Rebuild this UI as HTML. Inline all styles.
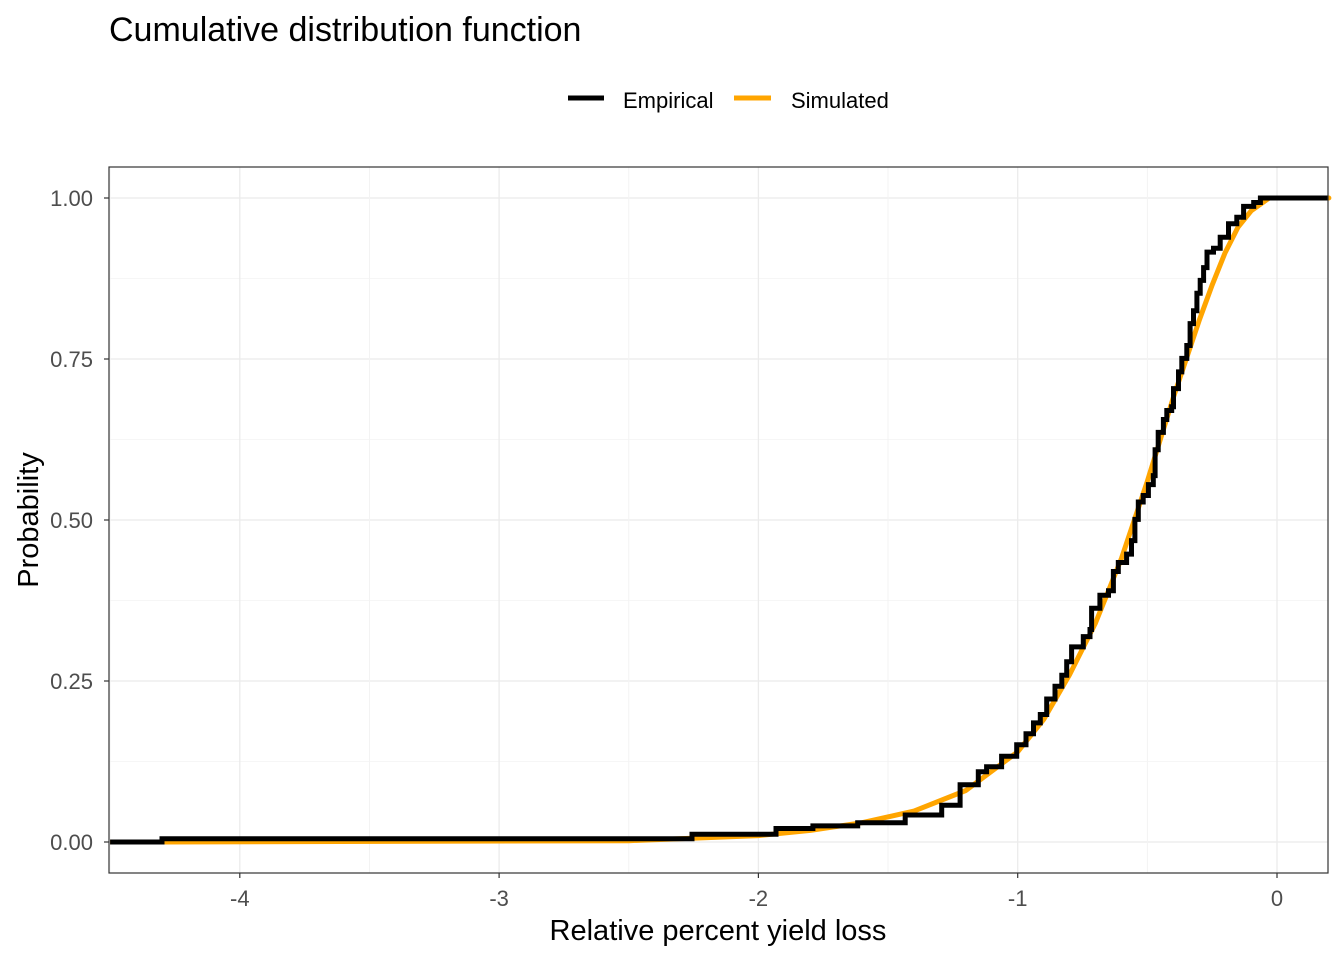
<!DOCTYPE html>
<html><head><meta charset="utf-8"><style>
body{margin:0;background:#fff;}
svg text{font-family:"Liberation Sans",Arial,sans-serif;}
</style></head><body>
<svg id="chart" width="1344" height="960" xmlns="http://www.w3.org/2000/svg">
<text x="109" y="41" font-size="34" fill="#000">Cumulative distribution function</text>
<g>
<line x1="568" y1="98" x2="604" y2="98" stroke="#000" stroke-width="5"/>
<text x="623" y="108" font-size="22">Empirical</text>
<line x1="734" y1="98" x2="771" y2="98" stroke="#FFA500" stroke-width="5"/>
<text x="791" y="108" font-size="22">Simulated</text>
</g>
<g id="grid"></g>
<g id="series"></g>
<rect x="109" y="167" width="1219" height="706" fill="none" stroke="#333" stroke-width="1.2"/>
<g id="axes"></g>
<text x="718" y="940" font-size="29" text-anchor="middle">Relative percent yield loss</text>
<text transform="translate(38,520) rotate(-90)" font-size="29" text-anchor="middle">Probability</text>
</svg>
<script>
const xTicks=[-4,-3,-2,-1,0];
const xTickLabels=["-4","-3","-2","-1","0"];
const yTicks=[0,0.25,0.5,0.75,1];
const yTickLabels=["0.00","0.25","0.50","0.75","1.00"];
const empX=[-4.5,-4.30,-2.256,-1.932,-1.79,-1.617,-1.434,-1.293,-1.222,-1.152,-1.120,-1.062,-1.004,-0.968,-0.939,-0.913,-0.888,-0.856,-0.83,-0.811,-0.792,-0.747,-0.721,-0.715,-0.683,-0.65,-0.631,-0.612,-0.580,-0.561,-0.548,-0.535,-0.516,-0.496,-0.477,-0.470,-0.458,-0.438,-0.425,-0.406,-0.399,-0.380,-0.367,-0.348,-0.335,-0.322,-0.309,-0.296,-0.283,-0.270,-0.245,-0.219,-0.187,-0.155,-0.129,-0.09,-0.064];
const empY=[0,0.005,0.012,0.021,0.025,0.030,0.042,0.057,0.089,0.109,0.117,0.133,0.151,0.168,0.185,0.198,0.222,0.242,0.259,0.280,0.303,0.319,0.33,0.363,0.383,0.39,0.42,0.434,0.447,0.468,0.501,0.528,0.538,0.555,0.569,0.609,0.636,0.656,0.67,0.676,0.704,0.73,0.751,0.771,0.805,0.825,0.852,0.872,0.892,0.916,0.922,0.939,0.96,0.97,0.987,0.993,1.0];
const simX=[-4.3,-2.5,-2.0,-1.8,-1.6,-1.4,-1.2,-1.0,-0.9,-0.8,-0.7,-0.6,-0.5,-0.4,-0.3,-0.25,-0.2,-0.15,-0.1,-0.03,0.2];
const simY=[0,0.002,0.01,0.018,0.03,0.048,0.08,0.14,0.19,0.26,0.34,0.44,0.56,0.69,0.81,0.865,0.915,0.955,0.98,1.0,1.0];
const X0=109,X1=1328,Y0=167,Y1=873;
const xs=v=>1277+(v-0)*259.3;
const ys=v=>842-v*644;
const NS="http://www.w3.org/2000/svg";
function mk(tag,attrs,parent){const e=document.createElementNS(NS,tag);for(const k in attrs)e.setAttribute(k,attrs[k]);parent.appendChild(e);return e;}
const grid=document.getElementById('grid');
for(let i=0;i<yTicks.length;i++){
 const l=mk('line',{x1:X0,x2:X1,y1:ys(yTicks[i]),y2:ys(yTicks[i]),stroke:'#EBEBEB','stroke-width':1.3},grid);
 
 
 if(i<yTicks.length-1){const m=mk('line',{x1:X0,x2:X1,y1:ys((yTicks[i]+yTicks[i+1])/2),y2:ys((yTicks[i]+yTicks[i+1])/2),stroke:'#F3F3F3','stroke-width':0.8},grid);
 
 }
}
for(let i=0;i<xTicks.length;i++){
 const l=mk('line',{y1:Y0,y2:Y1,x1:xs(xTicks[i]),x2:xs(xTicks[i]),stroke:'#EBEBEB','stroke-width':1.3},grid);
 
 
 [xTicks[i]-0.5,xTicks[i]+0.5].forEach(v=>{const px=xs(v);if(px>X0&&px<X1){const m=mk('line',{y1:Y0,y2:Y1,x1:px,x2:px,stroke:'#F3F3F3','stroke-width':0.8},grid);
 
 }});
}
const ser=document.getElementById('series');
let sp=simX.map((x,i)=>xs(x).toFixed(1)+','+ys(simY[i]).toFixed(1)).join(' ');
sp=xs(-4.5)+','+ys(0)+' '+sp+' '+X1+','+ys(1);
const sl=mk('polyline',{points:sp,fill:'none',stroke:'#FFA500','stroke-width':5,'stroke-linejoin':'round'},ser);


let ep=[];
for(let i=0;i<empX.length;i++){
 if(i>0)ep.push(xs(empX[i]).toFixed(1)+','+ys(empY[i-1]).toFixed(1));
 ep.push(xs(empX[i]).toFixed(1)+','+ys(empY[i]).toFixed(1));
}
ep.push(X1+','+ys(empY[empY.length-1]).toFixed(1));
const el=mk('polyline',{points:ep.join(' '),fill:'none',stroke:'#000','stroke-width':5,'stroke-linejoin':'miter'},ser);


const ax=document.getElementById('axes');
for(let i=0;i<yTicks.length;i++){
 const t=mk('line',{x1:X0-5,x2:X0,y1:ys(yTicks[i]),y2:ys(yTicks[i]),stroke:'#333','stroke-width':1.2},ax);
 
 
 const tx=mk('text',{x:X0-16,y:ys(yTicks[i])+8,'font-size':22,fill:'#4D4D4D','text-anchor':'end'},ax);
 tx.textContent=yTickLabels[i];
 
 
}
for(let i=0;i<xTicks.length;i++){
 const t=mk('line',{y1:Y1,y2:Y1+5,x1:xs(xTicks[i]),x2:xs(xTicks[i]),stroke:'#333','stroke-width':1.2},ax);
 
 
 const tx=mk('text',{x:xs(xTicks[i]),y:Y1+33,'font-size':22,fill:'#4D4D4D','text-anchor':'middle'},ax);
 tx.textContent=xTickLabels[i];
 
 
}
</script>
</body></html>
